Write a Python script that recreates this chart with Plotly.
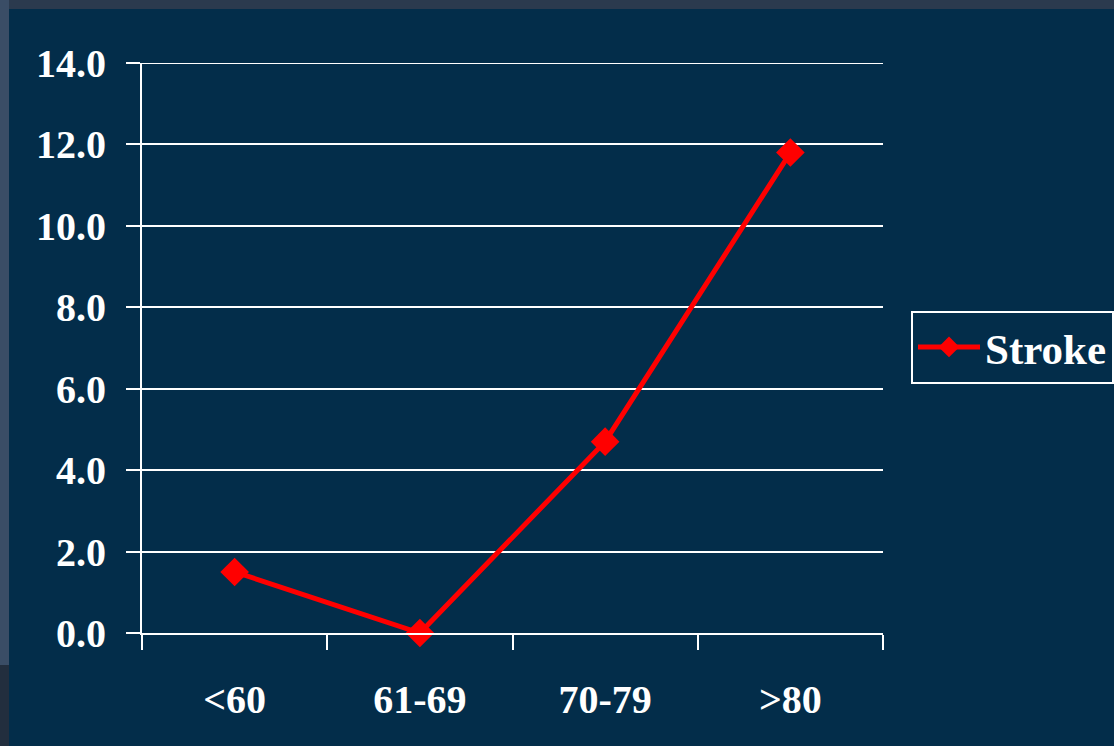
import plotly.graph_objects as go

categories = ["<60", "61-69", "70-79", ">80"]
stroke = [1.5, 0.0, 4.7, 11.8]
y_ticks = [0, 2, 4, 6, 8, 10, 12, 14]

PANEL = "#032d4a"
FONT = dict(family="Liberation Serif, Times New Roman, serif", size=40, color="white", weight="bold")

fig = go.Figure()
fig.add_trace(go.Scatter(
    x=categories, y=stroke, name="Stroke", mode="lines+markers",
    line=dict(color="#ff0000", width=5),
    marker=dict(symbol="diamond", size=22, color="#ff0000"),
    cliponaxis=False,
))

L, R, T, B = 142, 883, 63, 633
W, H = 1114, 746
pw, ph = R - L, B - T
def px(x): return (x - L) / pw
def py(y): return (B - y) / ph

shapes = [
    dict(type="rect", xref="paper", yref="paper", x0=px(0), x1=px(W + 5), y0=py(0), y1=py(9),
         fillcolor="#2b3a4e", line_width=0, layer="below"),
    dict(type="rect", xref="paper", yref="paper", x0=px(0), x1=px(9), y0=py(0), y1=py(665),
         fillcolor="#3a4d66", line_width=0, layer="below"),
    dict(type="rect", xref="paper", yref="paper", x0=px(0), x1=px(9), y0=py(665), y1=py(W),
         fillcolor="#222e3e", line_width=0, layer="below"),
    dict(type="rect", xref="paper", yref="paper", x0=px(9), x1=px(W + 5), y0=py(9), y1=py(H + 5),
         fillcolor=PANEL, line_width=0, layer="below"),
    # top gridline at max of range (plotly omits gridlines at the range edge)
    dict(type="line", xref="paper", yref="y", x0=0, x1=1, y0=y_ticks[-1], y1=y_ticks[-1],
         line=dict(color="white", width=2), layer="below"),
]

fig.update_layout(
    width=W, height=H,
    margin=dict(l=L, r=W - R, t=T, b=H - B, autoexpand=False),
    paper_bgcolor=PANEL, plot_bgcolor=PANEL,
    font=FONT,
    shapes=shapes,
    showlegend=True,
    legend=dict(x=px(911), y=py(347), xanchor="left", yanchor="middle",
                bgcolor=PANEL, bordercolor="white", borderwidth=2,
                font=dict(family=FONT["family"], size=43, color="white", weight="bold"),
                itemwidth=62),
    xaxis=dict(
        type="category", range=[-0.5, 3.5], tickson="boundaries",
        ticks="outside", ticklen=15, tickwidth=2, tickcolor="white",
        showline=True, linecolor="white", linewidth=2, showgrid=False,
        ticklabelstandoff=30, tickfont=FONT,
    ),
    yaxis=dict(
        range=[0, 14], tickvals=y_ticks, tickformat=".1f",
        ticks="outside", ticklen=14, tickwidth=2, tickcolor="white",
        showline=True, linecolor="white", linewidth=2,
        showgrid=True, gridcolor="white", gridwidth=2, zeroline=False,
        ticklabelstandoff=12, tickfont=FONT,
    ),
)

fig.write_html("out.html")
